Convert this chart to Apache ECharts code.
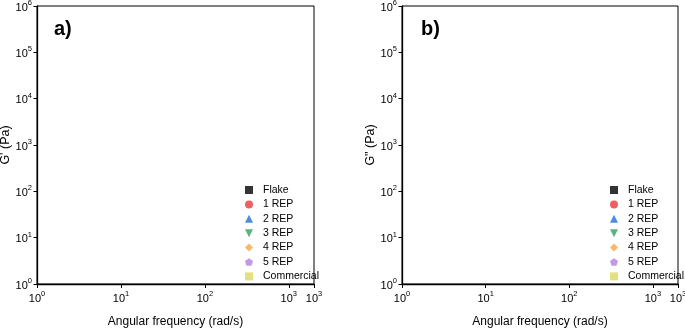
<!DOCTYPE html>
<html>
<head>
<meta charset="utf-8">
<script src="https://cdn.jsdelivr.net/npm/echarts@6/dist/echarts.min.js"></script>
<style>html,body{margin:0;padding:0;background:#fff}#c{width:685px;height:332px}</style>
</head>
<body>
<div id="c"></div>
<script>
// ---- data ----
const freq = [1.2, 1.6, 2.1, 2.8, 3.8, 5.0, 6.7, 8.9, 12, 16, 21, 28, 38, 50, 67, 90, 120, 160, 213, 284, 379, 500];
const seriesNames = ['Flake', '1 REP', '2 REP', '3 REP', '4 REP', '5 REP', 'Commercial'];

// G' (storage modulus, Pa), panel a)
const gp_flake = [80, 84, 104, 192, 218, 360, 405, 500, 1040, 1330, 1910, 2830, 4170, 6000, 8500, 12000, 17300, 24500, 32500, 43500, 59000, 74000];
const gp_rep1 = [59, 63, 89, 100, 126, 183, 246, 300, 372, 560, 760, 1120, 1670, 2380, 3470, 5100, 7300, 10400, 14700, 20000, 25500, 31000];
const gp_rep2 = [112, 112, 143, 100, 100, 215, 228, 228, 316, 417, 545, 745, 1050, 1440, 2130, 3180, 4870, 7300, 11000, 16700, 25000, 38000];
const gp_rep3 = [143, 113, 120, 108, 108, 177, 143, 168, 199, 254, 316, 417, 610, 810, 1230, 1900, 2800, 4300, 6500, 9800, 14500, 19500];
const gp_rep4 = [59, 60, 68, 71, 77, 91, 96, 121, 134, 186, 234, 325, 455, 630, 930, 1480, 2300, 3800, 5900, 10200, 16700, 26500];
const gp_rep5 = [39, 44, 31, 51, 60, 68, 58, 87, 104, 138, 186, 268, 372, 520, 760, 1180, 1850, 3180, 4900, 7800, 12000, 18700];
const gp_comm = [1130, 1120, 1000, 1490, 1580, 1850, 2140, 2630, 3240, 4070, 5100, 6500, 8500, 11000, 14500, 19000, 25000, 34000, 45000, 60000, 80000, 110000];

// G'' (loss modulus, Pa), panel b)
const gpp_flake = [980, 1230, 1660, 2140, 2820, 3630, 4900, 6170, 8510, 10700, 14100, 17800, 22400, 28200, 35500, 43600, 53700, 66100, 79400, 93300, 115000, 138000];
const gpp_rep1 = [560, 720, 950, 1290, 1700, 2240, 2950, 3890, 5010, 6460, 8510, 10960, 14100, 18200, 23400, 29500, 38000, 49000, 61700, 77600, 95500, 117500];
const gpp_rep2 = [810, 890, 1050, 1170, 1380, 1660, 2090, 2630, 3020, 3890, 5130, 6460, 7940, 10200, 13500, 16600, 21400, 27500, 36300, 46800, 60300, 75900];
const gpp_rep3 = [690, 720, 850, 980, 1150, 1380, 1740, 2140, 2510, 3160, 4070, 5250, 6460, 8130, 11000, 13500, 17400, 21400, 29500, 38000, 49000, 63100];
const gpp_rep4 = [316, 380, 447, 537, 661, 813, 977, 1230, 1580, 1950, 2400, 3160, 4270, 5250, 6920, 8910, 11500, 14800, 18600, 24000, 30900, 39800];
const gpp_rep5 = [186, 229, 288, 339, 457, 589, 724, 933, 1170, 1510, 1950, 2510, 3310, 4270, 5500, 7080, 9330, 12000, 15500, 20400, 26300, 33900];
const gpp_comm = [3980, 4270, 5010, 5750, 6610, 7940, 9330, 11200, 13500, 16200, 20000, 24000, 30200, 35500, 42700, 52500, 63100, 75900, 91200, 107000, 132000, 155000];

// axis ranges and tick values
const xRange = [0.5, 1000];
const yRange = [1, 1000000];
const xMajorTicks = [1, 10, 100, 1000];
const xMinorTicks = [0.5, 0.6, 0.7, 0.8, 0.9, 2, 3, 4, 5, 6, 7, 8, 9, 20, 30, 40, 50, 60, 70, 80, 90, 200, 300, 400, 500, 600, 700, 800, 900];
const yMajorTicks = [1, 10, 100, 1000, 10000, 100000, 1000000];
const yMinorTicks = [2,3,4,5,6,7,8,9,20,30,40,50,60,70,80,90,200,300,400,500,600,700,800,900,2000,3000,4000,5000,6000,7000,8000,9000,20000,30000,40000,50000,60000,70000,80000,90000,200000,300000,400000,500000,600000,700000,800000,900000];

// ---- styling ----
const FONT = "'Liberation Sans',Arial,sans-serif";
const styles = [
  {symbol: 'rect', size: 6, color: '#000000'},
  {symbol: 'circle', size: 6.5, color: '#e8393f'},
  {symbol: 'triangle', size: 7, color: '#1f6fd8'},
  {symbol: 'path://M-1,-1 L1,-1 L0,1 Z', size: [7, 6.5], color: '#2fa35c'},
  {symbol: 'diamond', size: [7, 8], color: '#f8a840'},
  {symbol: 'path://M0,-1 L0.951,-0.309 L0.588,0.809 L-0.588,0.809 L-0.951,-0.309 Z', size: 7, color: '#b27fe0'},
  {symbol: 'rect', size: 6, color: '#d9d962'}
];
const gpData = [gp_flake, gp_rep1, gp_rep2, gp_rep3, gp_rep4, gp_rep5, gp_comm];
const gppData = [gpp_flake, gpp_rep1, gpp_rep2, gpp_rep3, gpp_rep4, gpp_rep5, gpp_comm];

function supLabel(v) {
  return '{b|10}{s|' + Math.round(Math.log10(v)) + '}';
}
function makeRich() {
  return {
    b: {fontSize: 11, fontFamily: FONT, color: '#000', lineHeight: 14, verticalAlign: 'bottom'},
    s: {fontSize: 7.5, fontFamily: FONT, color: '#000', lineHeight: 8, verticalAlign: 'top'}
  };
}
function allTicks(major, minor) {
  return major.concat(minor).sort(function (a, b) { return a - b; });
}

function buildOption(withTicks) {
  const xAxis = [], yAxis = [];
  [0, 1].forEach(function (gi) {
    const xa = {
      type: 'log', gridIndex: gi, min: xRange[0], max: xRange[1],
      name: 'Angular frequency (rad/s)', nameLocation: 'middle', nameGap: 32,
      nameTextStyle: {fontFamily: FONT, fontSize: 12, color: '#000'},
      axisLine: {show: true, lineStyle: {color: '#000', width: 1.3}},
      axisTick: {show: true, inside: false, length: 4, lineStyle: {color: '#000', width: 1}},
      axisLabel: {show: true, margin: 6, formatter: supLabel, rich: makeRich()},
      splitLine: {show: false}
    };
    const ya = {
      type: 'log', gridIndex: gi, min: yRange[0], max: yRange[1],
      name: gi === 0 ? "G' (Pa)" : 'G" (Pa)', nameLocation: 'middle', nameGap: 23,
      nameTextStyle: {fontFamily: FONT, fontSize: 12.5, color: '#000'},
      axisLine: {show: true, lineStyle: {color: '#000', width: 1.3}},
      axisTick: {show: true, inside: false, length: 3.5, lineStyle: {color: '#000', width: 1}},
      axisLabel: {show: true, margin: 5, formatter: supLabel, rich: makeRich()},
      splitLine: {show: false}
    };
    if (withTicks) {
      xa.axisTick.customValues = allTicks(xMajorTicks, xMinorTicks);
      xa.axisLabel.customValues = xMajorTicks;
      ya.axisTick.customValues = allTicks(yMajorTicks, yMinorTicks);
      ya.axisLabel.customValues = yMajorTicks;
    } else {
      ya.interval = 1;
      xa.interval = 1;
    }
    xAxis.push(xa);
    yAxis.push(ya);
  });

  const series = [];
  [gpData, gppData].forEach(function (dataset, panel) {
    seriesNames.forEach(function (name, i) {
      series.push({
        type: 'scatter', name: name,
        xAxisIndex: panel, yAxisIndex: panel,
        symbol: styles[i].symbol, symbolSize: styles[i].size,
        itemStyle: {color: styles[i].color},
        data: freq.map(function (f, k) { return [f, dataset[k]]; })
      });
    });
  });

  function legendFor(left) {
    return {
      orient: 'vertical', left: left, top: 183, padding: 0,
      itemWidth: 8, itemHeight: 8, itemGap: 0.4,
      textStyle: {fontFamily: FONT, fontSize: 10.5, color: '#000', lineHeight: 14, padding: [0, 0, 0, 5]},
      data: seriesNames, selectedMode: false
    };
  }

  return {
    animation: false,
    backgroundColor: '#fff',
    grid: [
      {left: 37, top: 6, width: 277, height: 278, outerBoundsMode: 'none', containLabel: false, show: true, borderColor: '#000', borderWidth: 1, backgroundColor: 'transparent'},
      {left: 402, top: 6, width: 276, height: 278, outerBoundsMode: 'none', containLabel: false, show: true, borderColor: '#000', borderWidth: 1, backgroundColor: 'transparent'}
    ],
    title: [
      {text: 'a)', left: 54, top: 19, padding: 0, textStyle: {fontFamily: FONT, fontSize: 20, fontWeight: 'bold', color: '#000'}},
      {text: 'b)', left: 421, top: 19, padding: 0, textStyle: {fontFamily: FONT, fontSize: 20, fontWeight: 'bold', color: '#000'}}
    ],
    legend: [legendFor(245), legendFor(610)],
    xAxis: xAxis,
    yAxis: yAxis,
    series: series
  };
}

function pointsOk(ch) {
  try {
    const s = ch.getModel().getSeriesByIndex(0);
    const l = s.getData().getItemLayout(0);
    const s2 = ch.getModel().getSeriesByIndex(7);
    const l2 = s2.getData().getItemLayout(0);
    return l && l2 && isFinite(l[0]) && isFinite(l[1]) && l[1] !== null && isFinite(l2[0]) && isFinite(l2[1]) && l2[1] !== null;
  } catch (e) { return false; }
}

const chart = echarts.init(document.getElementById('c'));
chart.setOption(buildOption(true));
if (!pointsOk(chart)) {
  chart.clear();
  chart.setOption(buildOption(false), true);
}
</script>
</body>
</html>
